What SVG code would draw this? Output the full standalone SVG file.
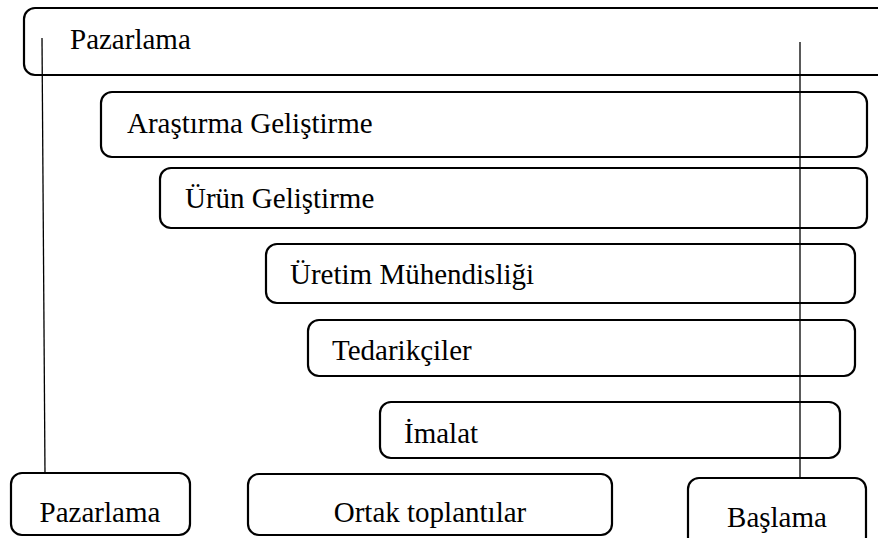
<svg xmlns="http://www.w3.org/2000/svg" width="878" height="538" viewBox="0 0 878 538">
<style>
.box{fill:#fff;stroke:#000;stroke-width:2.2}
text{font-family:'Liberation Serif','Times New Roman',serif;font-size:29px;fill:#000}
.c{text-anchor:middle}
.ln{stroke:#000;stroke-width:1.3;fill:none}
</style>
<rect width="878" height="538" fill="#fff"/>
<g id="pazarlama-top"><rect class="box" x="24" y="8" width="880" height="67" rx="11"/><text x="70" y="49">Pazarlama</text></g>
<g id="arastirma"><rect class="box" x="101" y="92" width="766" height="65" rx="11"/><text x="127" y="133">Araştırma Geliştirme</text></g>
<g id="urun"><rect class="box" x="160" y="168" width="707" height="60" rx="11"/><text x="185" y="208">Ürün Geliştirme</text></g>
<g id="uretim"><rect class="box" x="266" y="244" width="589" height="59" rx="11"/><text x="290" y="284">Üretim Mühendisliği</text></g>
<g id="tedarikciler"><rect class="box" x="308" y="320" width="547" height="56" rx="11"/><text x="332" y="360">Tedarikçiler</text></g>
<g id="imalat"><rect class="box" x="380" y="402" width="460" height="56" rx="11"/><text x="404" y="443">İmalat</text></g>
<g id="pazarlama-bottom"><rect class="box" x="11" y="473" width="179" height="62" rx="11"/><text class="c" x="100" y="522">Pazarlama</text></g>
<g id="ortak"><rect class="box" x="248" y="474" width="364" height="61" rx="11"/><text class="c" x="430" y="522">Ortak toplantılar</text></g>
<g id="baslama"><rect class="box" x="688" y="478" width="178" height="70" rx="11"/><text class="c" x="777" y="527">Başlama</text></g>
<g id="connectors">
<line class="ln" x1="42" y1="38" x2="45" y2="473"/>
<line class="ln" x1="800" y1="42" x2="800" y2="478"/>
</g>
</svg>
